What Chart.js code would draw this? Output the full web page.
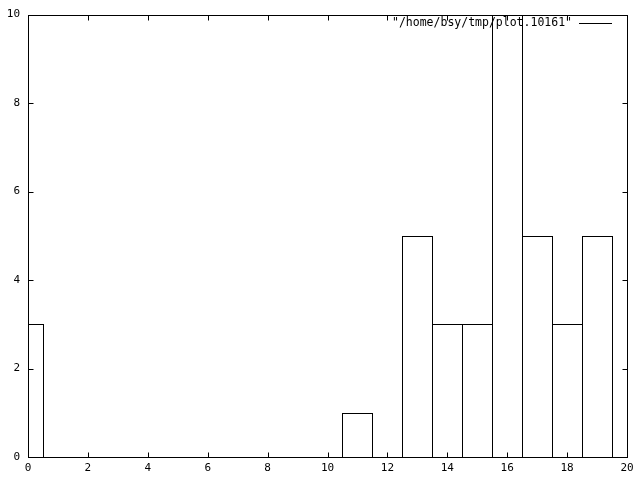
<!DOCTYPE html>
<html>
<head>
<meta charset="utf-8">
<title>plot.10161</title>
<script src="https://cdn.jsdelivr.net/npm/chart.js@4"></script>
<style>
    html, body { margin: 0; padding: 0; background: #fff; }
    #wrap { width: 640px; height: 480px; }
</style>
</head>
<body>
<div id="wrap"><canvas id="plot"></canvas></div>
<script>
// data
const seriesLabel = '/home/bsy/tmp/plot.10161';
const binCenters = [0, 1, 2, 3, 4, 5, 6, 7, 8, 9, 10, 11, 12, 13, 14, 15, 16, 17, 18, 19];
const binCounts  = [3, 0, 0, 0, 0, 0, 0, 0, 0, 0, 0, 1, 0, 5, 3, 3, 10, 5, 3, 5];
const xTicks = [0, 2, 4, 6, 8, 10, 12, 14, 16, 18, 20];
const yTicks = [0, 2, 4, 6, 8, 10];

const KEY_FONT = '11.5px "DejaVu Sans Mono"';
const TICK = 5;

// outline the bars on whole pixels so neighbouring boxes share one 1px edge
const boxPlugin = {
    id: 'boxes',
    afterDatasetsDraw(chart) {
        const { ctx, chartArea: a } = chart;
        const meta = chart.getDatasetMeta(0);
        ctx.save();
        ctx.beginPath();
        ctx.rect(a.left, a.top, a.right - a.left + 1, a.bottom - a.top + 1);
        ctx.clip();
        ctx.strokeStyle = '#000';
        ctx.lineWidth = 1;
        meta.data.forEach(bar => {
            const p = bar.getProps(['x', 'y', 'base', 'width'], true);
            const l = Math.round(p.x - p.width / 2) + 0.5;
            const r = Math.round(p.x + p.width / 2) + 0.5;
            const t = Math.round(p.y) + 0.5;
            const b = Math.round(p.base) + 0.5;
            ctx.strokeRect(l, t, r - l, b - t);
        });
        ctx.restore();
    }
};

// gnuplot style frame, inward ticks on all four sides, and the key
const framePlugin = {
    id: 'frame',
    afterDraw(chart) {
        const { ctx, chartArea: a, scales } = chart;
        const L = Math.round(a.left) + 0.5, R = Math.round(a.right) + 0.5;
        const T = Math.round(a.top) + 0.5, B = Math.round(a.bottom) + 0.5;
        ctx.save();
        ctx.strokeStyle = '#000';
        ctx.lineWidth = 1;
        ctx.strokeRect(L, T, R - L, B - T);

        ctx.beginPath();
        xTicks.forEach(v => {
            const px = Math.round(scales.x.getPixelForValue(v)) + 0.5;
            ctx.moveTo(px, B); ctx.lineTo(px, B - TICK);
            ctx.moveTo(px, T); ctx.lineTo(px, T + TICK);
        });
        yTicks.forEach(v => {
            const py = Math.round(scales.y.getPixelForValue(v)) + 0.5;
            ctx.moveTo(L, py); ctx.lineTo(L + TICK, py);
            ctx.moveTo(R, py); ctx.lineTo(R - TICK, py);
        });
        ctx.stroke();

        // key at top right
        const label = chart.data.datasets[0].label;
        ctx.font = KEY_FONT;
        ctx.fillStyle = '#000';
        ctx.textAlign = 'right';
        ctx.textBaseline = 'middle';
        ctx.fillText('"' + label + '"', 572, 23);
        ctx.beginPath();
        ctx.moveTo(579, 23.5);
        ctx.lineTo(612, 23.5);
        ctx.stroke();
        ctx.restore();
    }
};

Chart.defaults.font.family = '"DejaVu Sans Mono"';
Chart.defaults.font.size = 11;
Chart.defaults.color = '#000';

new Chart(document.getElementById('plot'), {
    type: 'bar',
    data: {
        datasets: [{
            label: seriesLabel,
            data: binCenters.map((x, i) => ({ x, y: binCounts[i] })),
            backgroundColor: 'rgba(0,0,0,0)',
            borderWidth: 0,
            barPercentage: 1,
            categoryPercentage: 1,
            clip: 0
        }]
    },
    options: {
        responsive: true,
        maintainAspectRatio: false,
        animation: false,
        layout: { padding: { top: 13, right: 13, left: 0, bottom: 0 } },
        plugins: {
            legend: { display: false },
            tooltip: { enabled: false }
        },
        scales: {
            x: {
                type: 'linear',
                min: 0,
                max: 20,
                offset: false,
                grid: { display: false, offset: false, drawTicks: false },
                border: { display: false },
                afterBuildTicks: s => { s.ticks = xTicks.map(value => ({ value })); },
                afterFit: s => { s.height = 23; },
                ticks: { padding: 5, maxRotation: 0, autoSkip: false }
            },
            y: {
                min: 0,
                max: 10,
                grid: { display: false, drawTicks: false },
                border: { display: false },
                afterBuildTicks: s => { s.ticks = yTicks.map(value => ({ value })); },
                afterFit: s => { s.width = 28; },
                ticks: { padding: 8 }
            }
        }
    },
    plugins: [boxPlugin, framePlugin]
});
</script>
</body>
</html>
